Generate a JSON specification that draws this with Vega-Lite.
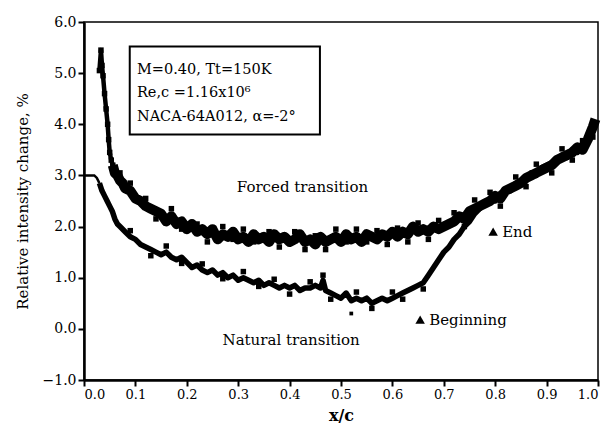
{
  "$schema": "https://vega.github.io/schema/vega-lite/v6.json",
  "autosize": {"type": "none"},
  "width": 514,
  "height": 358,
  "padding": {"left": 84, "top": 22, "right": 18, "bottom": 55},
  "background": "white",
  "config": {
    "font": "DejaVu Serif",
    "view": {"stroke": "black", "strokeWidth": 1.5},
    "axis": {"domainColor": "black", "domainWidth": 2.5, "tickColor": "black", "tickWidth": 2, "tickSize": 6, "labelColor": "black", "labelFont": "DejaVu Serif", "labelFontSize": 13, "titleFont": "DejaVu Serif", "titleColor": "black", "grid": false}
  },
  "datasets": {
    "curves": [
      {"s": "F", "x": 0.030, "y": 5.05}, {"s": "F", "x": 0.033, "y": 5.45}, {"s": "F", "x": 0.035, "y": 5.15}, {"s": "F", "x": 0.037, "y": 4.95},
      {"s": "F", "x": 0.040, "y": 4.6}, {"s": "F", "x": 0.043, "y": 4.3}, {"s": "F", "x": 0.046, "y": 4.0}, {"s": "F", "x": 0.048, "y": 3.7},
      {"s": "F", "x": 0.050, "y": 3.45}, {"s": "F", "x": 0.053, "y": 3.3}, {"s": "F", "x": 0.056, "y": 3.2}, {"s": "F", "x": 0.060, "y": 3.05},
      {"s": "F", "x": 0.065, "y": 3.0}, {"s": "F", "x": 0.070, "y": 2.9}, {"s": "F", "x": 0.075, "y": 2.85}, {"s": "F", "x": 0.080, "y": 2.75},
      {"s": "F", "x": 0.090, "y": 2.7}, {"s": "F", "x": 0.100, "y": 2.55}, {"s": "F", "x": 0.110, "y": 2.5}, {"s": "F", "x": 0.120, "y": 2.4},
      {"s": "F", "x": 0.130, "y": 2.35}, {"s": "F", "x": 0.140, "y": 2.3}, {"s": "F", "x": 0.150, "y": 2.25}, {"s": "F", "x": 0.160, "y": 2.1},
      {"s": "F", "x": 0.170, "y": 2.2}, {"s": "F", "x": 0.180, "y": 2.05}, {"s": "F", "x": 0.190, "y": 2.1}, {"s": "F", "x": 0.200, "y": 1.95},
      {"s": "F", "x": 0.210, "y": 2.05}, {"s": "F", "x": 0.220, "y": 1.9}, {"s": "F", "x": 0.230, "y": 1.95}, {"s": "F", "x": 0.240, "y": 1.85},
      {"s": "F", "x": 0.250, "y": 1.95}, {"s": "F", "x": 0.260, "y": 1.75}, {"s": "F", "x": 0.270, "y": 1.85}, {"s": "F", "x": 0.280, "y": 1.8},
      {"s": "F", "x": 0.290, "y": 1.9}, {"s": "F", "x": 0.300, "y": 1.75}, {"s": "F", "x": 0.310, "y": 1.8}, {"s": "F", "x": 0.320, "y": 1.7},
      {"s": "F", "x": 0.330, "y": 1.85}, {"s": "F", "x": 0.340, "y": 1.75}, {"s": "F", "x": 0.350, "y": 1.8}, {"s": "F", "x": 0.360, "y": 1.7},
      {"s": "F", "x": 0.370, "y": 1.85}, {"s": "F", "x": 0.380, "y": 1.75}, {"s": "F", "x": 0.390, "y": 1.8}, {"s": "F", "x": 0.400, "y": 1.7},
      {"s": "F", "x": 0.410, "y": 1.75}, {"s": "F", "x": 0.420, "y": 1.85}, {"s": "F", "x": 0.430, "y": 1.7}, {"s": "F", "x": 0.440, "y": 1.75},
      {"s": "F", "x": 0.450, "y": 1.65}, {"s": "F", "x": 0.460, "y": 1.8}, {"s": "F", "x": 0.470, "y": 1.7}, {"s": "F", "x": 0.480, "y": 1.75},
      {"s": "F", "x": 0.490, "y": 1.8}, {"s": "F", "x": 0.500, "y": 1.7}, {"s": "F", "x": 0.510, "y": 1.85}, {"s": "F", "x": 0.520, "y": 1.75},
      {"s": "F", "x": 0.530, "y": 1.8}, {"s": "F", "x": 0.540, "y": 1.7}, {"s": "F", "x": 0.550, "y": 1.85}, {"s": "F", "x": 0.560, "y": 1.8},
      {"s": "F", "x": 0.570, "y": 1.75}, {"s": "F", "x": 0.580, "y": 1.85}, {"s": "F", "x": 0.590, "y": 1.8}, {"s": "F", "x": 0.600, "y": 1.9},
      {"s": "F", "x": 0.610, "y": 1.8}, {"s": "F", "x": 0.620, "y": 1.9}, {"s": "F", "x": 0.630, "y": 1.85}, {"s": "F", "x": 0.640, "y": 2.0},
      {"s": "F", "x": 0.650, "y": 1.9}, {"s": "F", "x": 0.660, "y": 1.95}, {"s": "F", "x": 0.670, "y": 1.9}, {"s": "F", "x": 0.680, "y": 2.0},
      {"s": "F", "x": 0.690, "y": 1.95}, {"s": "F", "x": 0.700, "y": 2.0}, {"s": "F", "x": 0.710, "y": 2.05}, {"s": "F", "x": 0.720, "y": 2.1},
      {"s": "F", "x": 0.730, "y": 2.2}, {"s": "F", "x": 0.740, "y": 2.15}, {"s": "F", "x": 0.750, "y": 2.3}, {"s": "F", "x": 0.760, "y": 2.35},
      {"s": "F", "x": 0.770, "y": 2.4}, {"s": "F", "x": 0.780, "y": 2.45}, {"s": "F", "x": 0.790, "y": 2.5}, {"s": "F", "x": 0.800, "y": 2.6},
      {"s": "F", "x": 0.810, "y": 2.55}, {"s": "F", "x": 0.820, "y": 2.7}, {"s": "F", "x": 0.830, "y": 2.75}, {"s": "F", "x": 0.840, "y": 2.8},
      {"s": "F", "x": 0.850, "y": 2.85}, {"s": "F", "x": 0.860, "y": 2.95}, {"s": "F", "x": 0.870, "y": 3.0}, {"s": "F", "x": 0.880, "y": 3.05},
      {"s": "F", "x": 0.890, "y": 3.1}, {"s": "F", "x": 0.900, "y": 3.15}, {"s": "F", "x": 0.910, "y": 3.2}, {"s": "F", "x": 0.920, "y": 3.3},
      {"s": "F", "x": 0.930, "y": 3.35}, {"s": "F", "x": 0.940, "y": 3.4}, {"s": "F", "x": 0.950, "y": 3.45}, {"s": "F", "x": 0.960, "y": 3.55},
      {"s": "F", "x": 0.970, "y": 3.5}, {"s": "F", "x": 0.980, "y": 3.7}, {"s": "F", "x": 0.990, "y": 3.95}, {"s": "F", "x": 0.995, "y": 4.1},
      {"s": "N", "x": 0.000, "y": 3.0}, {"s": "N", "x": 0.010, "y": 3.0}, {"s": "N", "x": 0.020, "y": 3.0}, {"s": "N", "x": 0.025, "y": 2.95},
      {"s": "N", "x": 0.030, "y": 2.85}, {"s": "N", "x": 0.035, "y": 2.7}, {"s": "N", "x": 0.040, "y": 2.6}, {"s": "N", "x": 0.045, "y": 2.5},
      {"s": "N", "x": 0.050, "y": 2.4}, {"s": "N", "x": 0.055, "y": 2.3}, {"s": "N", "x": 0.060, "y": 2.15}, {"s": "N", "x": 0.065, "y": 2.05},
      {"s": "N", "x": 0.070, "y": 2.0}, {"s": "N", "x": 0.080, "y": 1.9}, {"s": "N", "x": 0.090, "y": 1.8}, {"s": "N", "x": 0.100, "y": 1.75},
      {"s": "N", "x": 0.110, "y": 1.65}, {"s": "N", "x": 0.120, "y": 1.6}, {"s": "N", "x": 0.130, "y": 1.55}, {"s": "N", "x": 0.140, "y": 1.5},
      {"s": "N", "x": 0.150, "y": 1.45}, {"s": "N", "x": 0.160, "y": 1.5}, {"s": "N", "x": 0.170, "y": 1.4}, {"s": "N", "x": 0.180, "y": 1.35},
      {"s": "N", "x": 0.190, "y": 1.4}, {"s": "N", "x": 0.200, "y": 1.3}, {"s": "N", "x": 0.210, "y": 1.2}, {"s": "N", "x": 0.220, "y": 1.25},
      {"s": "N", "x": 0.230, "y": 1.15}, {"s": "N", "x": 0.240, "y": 1.1}, {"s": "N", "x": 0.250, "y": 1.15}, {"s": "N", "x": 0.260, "y": 1.05},
      {"s": "N", "x": 0.270, "y": 1.1}, {"s": "N", "x": 0.280, "y": 1.0}, {"s": "N", "x": 0.290, "y": 1.05}, {"s": "N", "x": 0.300, "y": 0.95},
      {"s": "N", "x": 0.310, "y": 1.0}, {"s": "N", "x": 0.320, "y": 0.95}, {"s": "N", "x": 0.330, "y": 0.9}, {"s": "N", "x": 0.340, "y": 0.95},
      {"s": "N", "x": 0.350, "y": 0.85}, {"s": "N", "x": 0.360, "y": 0.9}, {"s": "N", "x": 0.370, "y": 0.85}, {"s": "N", "x": 0.380, "y": 0.8},
      {"s": "N", "x": 0.390, "y": 0.85}, {"s": "N", "x": 0.400, "y": 0.8}, {"s": "N", "x": 0.410, "y": 0.85}, {"s": "N", "x": 0.420, "y": 0.75},
      {"s": "N", "x": 0.430, "y": 0.8}, {"s": "N", "x": 0.440, "y": 0.8}, {"s": "N", "x": 0.450, "y": 0.85}, {"s": "N", "x": 0.460, "y": 0.8},
      {"s": "N", "x": 0.465, "y": 0.95}, {"s": "N", "x": 0.470, "y": 0.75}, {"s": "N", "x": 0.480, "y": 0.7}, {"s": "N", "x": 0.490, "y": 0.65},
      {"s": "N", "x": 0.500, "y": 0.6}, {"s": "N", "x": 0.510, "y": 0.7}, {"s": "N", "x": 0.520, "y": 0.55}, {"s": "N", "x": 0.530, "y": 0.6},
      {"s": "N", "x": 0.540, "y": 0.55}, {"s": "N", "x": 0.550, "y": 0.6}, {"s": "N", "x": 0.560, "y": 0.5}, {"s": "N", "x": 0.570, "y": 0.55},
      {"s": "N", "x": 0.580, "y": 0.6}, {"s": "N", "x": 0.590, "y": 0.55}, {"s": "N", "x": 0.600, "y": 0.6}, {"s": "N", "x": 0.610, "y": 0.65},
      {"s": "N", "x": 0.620, "y": 0.7}, {"s": "N", "x": 0.630, "y": 0.75}, {"s": "N", "x": 0.640, "y": 0.8}, {"s": "N", "x": 0.650, "y": 0.85},
      {"s": "N", "x": 0.660, "y": 0.9}, {"s": "N", "x": 0.670, "y": 1.05}, {"s": "N", "x": 0.680, "y": 1.2}, {"s": "N", "x": 0.690, "y": 1.35},
      {"s": "N", "x": 0.700, "y": 1.5}, {"s": "N", "x": 0.710, "y": 1.6}, {"s": "N", "x": 0.720, "y": 1.75}, {"s": "N", "x": 0.730, "y": 1.85},
      {"s": "N", "x": 0.740, "y": 2.0}, {"s": "N", "x": 0.750, "y": 2.1}, {"s": "N", "x": 0.760, "y": 2.25}, {"s": "N", "x": 0.770, "y": 2.35},
      {"s": "N", "x": 0.780, "y": 2.45}, {"s": "N", "x": 0.790, "y": 2.55}, {"s": "N", "x": 0.800, "y": 2.5}, {"s": "N", "x": 0.810, "y": 2.65},
      {"s": "N", "x": 0.820, "y": 2.7}, {"s": "N", "x": 0.830, "y": 2.7}, {"s": "N", "x": 0.840, "y": 2.85}, {"s": "N", "x": 0.850, "y": 2.9},
      {"s": "N", "x": 0.860, "y": 2.9}, {"s": "N", "x": 0.870, "y": 3.05}, {"s": "N", "x": 0.880, "y": 3.0}, {"s": "N", "x": 0.890, "y": 3.15},
      {"s": "N", "x": 0.900, "y": 3.2}, {"s": "N", "x": 0.910, "y": 3.25}, {"s": "N", "x": 0.920, "y": 3.25}, {"s": "N", "x": 0.930, "y": 3.4},
      {"s": "N", "x": 0.940, "y": 3.35}, {"s": "N", "x": 0.950, "y": 3.5}, {"s": "N", "x": 0.960, "y": 3.45}, {"s": "N", "x": 0.970, "y": 3.6},
      {"s": "N", "x": 0.980, "y": 3.65}, {"s": "N", "x": 0.990, "y": 3.8}
    ],
    "scatter": [
      {"s": "F", "x": 0.07, "y": 3.05}, {"s": "F", "x": 0.09, "y": 2.85}, {"s": "F", "x": 0.12, "y": 2.55}, {"s": "F", "x": 0.14, "y": 2.15},
      {"s": "F", "x": 0.17, "y": 2.35}, {"s": "F", "x": 0.19, "y": 1.95}, {"s": "F", "x": 0.22, "y": 2.05}, {"s": "F", "x": 0.24, "y": 1.7},
      {"s": "F", "x": 0.27, "y": 2.0}, {"s": "F", "x": 0.29, "y": 1.75}, {"s": "F", "x": 0.31, "y": 1.95}, {"s": "F", "x": 0.33, "y": 1.7},
      {"s": "F", "x": 0.36, "y": 1.9}, {"s": "F", "x": 0.38, "y": 1.6}, {"s": "F", "x": 0.41, "y": 1.9}, {"s": "F", "x": 0.43, "y": 1.55},
      {"s": "F", "x": 0.45, "y": 1.82}, {"s": "F", "x": 0.47, "y": 1.55}, {"s": "F", "x": 0.49, "y": 1.95}, {"s": "F", "x": 0.51, "y": 1.7},
      {"s": "F", "x": 0.53, "y": 1.95}, {"s": "F", "x": 0.55, "y": 1.7}, {"s": "F", "x": 0.57, "y": 1.92}, {"s": "F", "x": 0.59, "y": 1.65},
      {"s": "F", "x": 0.61, "y": 1.97}, {"s": "F", "x": 0.63, "y": 1.7}, {"s": "F", "x": 0.65, "y": 2.07}, {"s": "F", "x": 0.67, "y": 1.75},
      {"s": "F", "x": 0.69, "y": 2.12}, {"s": "F", "x": 0.72, "y": 2.27}, {"s": "F", "x": 0.74, "y": 2.0}, {"s": "F", "x": 0.76, "y": 2.52},
      {"s": "F", "x": 0.79, "y": 2.67}, {"s": "F", "x": 0.81, "y": 2.4}, {"s": "F", "x": 0.84, "y": 2.97}, {"s": "F", "x": 0.86, "y": 2.78},
      {"s": "F", "x": 0.88, "y": 3.22}, {"s": "F", "x": 0.91, "y": 3.05}, {"s": "F", "x": 0.93, "y": 3.52}, {"s": "F", "x": 0.95, "y": 3.3},
      {"s": "F", "x": 0.97, "y": 3.68}, {"s": "F", "x": 0.99, "y": 3.75},
      {"s": "N", "x": 0.09, "y": 1.92}, {"s": "N", "x": 0.13, "y": 1.43}, {"s": "N", "x": 0.16, "y": 1.62}, {"s": "N", "x": 0.19, "y": 1.28},
      {"s": "N", "x": 0.23, "y": 1.27}, {"s": "N", "x": 0.27, "y": 0.98}, {"s": "N", "x": 0.31, "y": 1.12}, {"s": "N", "x": 0.34, "y": 0.83},
      {"s": "N", "x": 0.37, "y": 0.97}, {"s": "N", "x": 0.40, "y": 0.68}, {"s": "N", "x": 0.44, "y": 0.92}, {"s": "N", "x": 0.465, "y": 1.05},
      {"s": "N", "x": 0.48, "y": 0.58}, {"s": "N", "x": 0.53, "y": 0.72}, {"s": "N", "x": 0.56, "y": 0.4}, {"s": "N", "x": 0.60, "y": 0.72},
      {"s": "N", "x": 0.62, "y": 0.58}, {"s": "N", "x": 0.66, "y": 0.78}
    ],
    "outliers": [
      {"x": 0.52, "y": 0.3}
    ],
    "box": [
      {"x": 0.089, "x2": 0.459, "y": 5.52, "y2": 3.8}
    ],
    "boxtext": [
      {"x": 0.103, "y": 5.07, "t": "M=0.40, Tt=150K"},
      {"x": 0.103, "y": 4.62, "t": "Re,c =1.16x10⁶"},
      {"x": 0.103, "y": 4.15, "t": "NACA-64A012, α=-2°"}
    ],
    "labels": [
      {"x": 0.425, "y": 2.78, "t": "Forced transition"},
      {"x": 0.403, "y": -0.22, "t": "Natural transition"}
    ],
    "markers": [
      {"x": 0.796, "y": 1.9, "t": "End"},
      {"x": 0.654, "y": 0.18, "t": "Beginning"}
    ]
  },
  "layer": [
    {
      "data": {"name": "box"},
      "mark": {"type": "rect", "fill": "white", "stroke": "black", "strokeWidth": 2},
      "encoding": {
        "x": {"field": "x", "type": "quantitative", "scale": {"domain": [0, 1], "nice": false}, "axis": {"values": [0, 0.1, 0.2, 0.3, 0.4, 0.5, 0.6, 0.7, 0.8, 0.9, 1.0], "format": ".1f", "title": "x/c", "titleFontSize": 16, "titleFontWeight": "bold", "titlePadding": 6, "labelPadding": 2, "labelFontSize": 13}},
        "x2": {"field": "x2"},
        "y": {"field": "y", "type": "quantitative", "scale": {"domain": [-1, 6], "nice": false}, "axis": {"values": [-1, 0, 1, 2, 3, 4, 5, 6], "format": ".1f", "title": "Relative intensity change, %", "titleFontSize": 15, "titleFontWeight": "normal", "titlePadding": 12, "labelPadding": 2, "labelFontSize": 14}},
        "y2": {"field": "y2"}
      }
    },
    {
      "data": {"name": "curves"},
      "transform": [{"filter": "datum.s == 'F' && datum.x <= 0.062"}],
      "mark": {"type": "line", "color": "black", "strokeWidth": 4.5, "strokeJoin": "round"},
      "encoding": {
        "x": {"field": "x", "type": "quantitative"},
        "y": {"field": "y", "type": "quantitative"}
      }
    },
    {
      "data": {"name": "curves"},
      "transform": [{"filter": "datum.s == 'F' && datum.x >= 0.056"}],
      "mark": {"type": "line", "color": "black", "strokeWidth": 10, "strokeJoin": "round"},
      "encoding": {
        "x": {"field": "x", "type": "quantitative"},
        "y": {"field": "y", "type": "quantitative"}
      }
    },
    {
      "data": {"name": "curves"},
      "transform": [{"filter": "datum.s == 'N' && datum.x <= 0.032"}],
      "mark": {"type": "line", "color": "black", "strokeWidth": 2.5},
      "encoding": {
        "x": {"field": "x", "type": "quantitative"},
        "y": {"field": "y", "type": "quantitative"}
      }
    },
    {
      "data": {"name": "curves"},
      "transform": [{"filter": "datum.s == 'N' && datum.x >= 0.03"}],
      "mark": {"type": "line", "color": "black", "strokeWidth": 5.5, "strokeJoin": "round"},
      "encoding": {
        "x": {"field": "x", "type": "quantitative"},
        "y": {"field": "y", "type": "quantitative"}
      }
    },
    {
      "data": {"name": "scatter"},
      "mark": {"type": "square", "color": "black", "filled": true, "opacity": 1, "size": 30},
      "encoding": {
        "x": {"field": "x", "type": "quantitative"},
        "y": {"field": "y", "type": "quantitative"}
      }
    },
    {
      "data": {"name": "outliers"},
      "mark": {"type": "square", "color": "black", "filled": true, "opacity": 1, "size": 14},
      "encoding": {
        "x": {"field": "x", "type": "quantitative"},
        "y": {"field": "y", "type": "quantitative"}
      }
    },
    {
      "data": {"name": "curves"},
      "transform": [{"filter": "datum.s == 'F' && datum.x < 0.06"}],
      "mark": {"type": "square", "color": "black", "filled": true, "opacity": 1, "size": 30},
      "encoding": {
        "x": {"field": "x", "type": "quantitative"},
        "y": {"field": "y", "type": "quantitative"}
      }
    },
    {
      "data": {"name": "boxtext"},
      "mark": {"type": "text", "align": "left", "baseline": "middle", "fontSize": 14.5, "color": "black"},
      "encoding": {
        "x": {"field": "x", "type": "quantitative"},
        "y": {"field": "y", "type": "quantitative"},
        "text": {"field": "t"}
      }
    },
    {
      "data": {"name": "labels"},
      "mark": {"type": "text", "align": "center", "baseline": "middle", "fontSize": 15, "color": "black"},
      "encoding": {
        "x": {"field": "x", "type": "quantitative"},
        "y": {"field": "y", "type": "quantitative"},
        "text": {"field": "t"}
      }
    },
    {
      "data": {"name": "markers"},
      "mark": {"type": "point", "shape": "triangle-up", "filled": true, "color": "black", "opacity": 1, "size": 90},
      "encoding": {
        "x": {"field": "x", "type": "quantitative"},
        "y": {"field": "y", "type": "quantitative"}
      }
    },
    {
      "data": {"name": "markers"},
      "mark": {"type": "text", "align": "left", "baseline": "middle", "dx": 9, "fontSize": 15, "color": "black"},
      "encoding": {
        "x": {"field": "x", "type": "quantitative"},
        "y": {"field": "y", "type": "quantitative"},
        "text": {"field": "t"}
      }
    }
  ]
}
